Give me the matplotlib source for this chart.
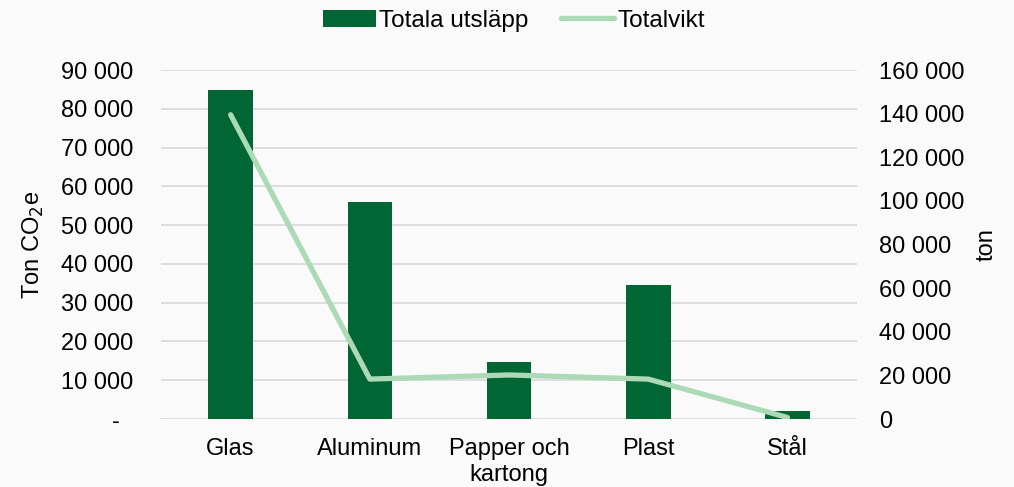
import numpy as np
import matplotlib.pyplot as plt
from matplotlib.ticker import FuncFormatter

plt.rcParams['font.family'] = ['Liberation Sans', 'DejaVu Sans']

categories = ['Glas', 'Aluminum', 'Papper och\nkartong', 'Plast', 'Stål']
utslapp = [84900, 56000, 14600, 34500, 2000]      # ton CO2e, left axis
totalvikt = [139500, 18300, 20200, 18300, 700]    # ton, right axis

bar_color = '#006633'
line_color = '#acd9b6'
bg = '#fafafa'
fs = 17


def sv_fmt(v, pos):
    if v == 0:
        return '-  '
    return '{:,.0f}'.format(v).replace(',', ' ')


def sv_fmt2(v, pos):
    return '{:,.0f}'.format(v).replace(',', ' ')


fig = plt.figure(figsize=(10.14, 4.87), dpi=100, facecolor=bg)
ax = fig.add_axes([0.1588, 0.1396, 0.6864, 0.7166], facecolor=bg)
ax2 = ax.twinx()

x = np.arange(len(categories))
b = ax.bar(x, utslapp, width=0.32, color=bar_color, label='Totala utsläpp', zorder=2)
l, = ax2.plot(x, totalvikt, color=line_color, lw=3.8, solid_capstyle='round',
              label='Totalvikt', zorder=3)

ax.set_xlim(-0.5, 4.5)
ax.set_ylim(0, 90000)
ax.set_yticks(np.arange(0, 90001, 10000))
ax2.set_ylim(0, 160000)
ax2.set_yticks(np.arange(0, 160001, 20000))
ax.yaxis.set_major_formatter(FuncFormatter(sv_fmt))
ax2.yaxis.set_major_formatter(FuncFormatter(sv_fmt2))

ax.set_xticks(x)
ax.set_xticklabels(categories, linespacing=1.2)
ax.grid(axis='y', color='#d9d9d9', lw=1.2, zorder=0)
ax.set_axisbelow(True)

for a in (ax, ax2):
    for s in a.spines.values():
        s.set_visible(False)
    a.tick_params(length=0, labelsize=fs, colors='black')
ax.tick_params(axis='y', pad=20)
ax2.tick_params(axis='y', pad=16)
ax.tick_params(axis='x', pad=14)

fig.text(0.0325, 0.497, 'Ton CO$_2$e', fontsize=fs, rotation=90, ha='center', va='center')
fig.text(0.973, 0.497, 'ton', fontsize=fs, rotation=90, ha='center', va='center')

fig.legend(handles=[b, l], loc='center', bbox_to_anchor=(0.507, 0.957), ncol=2,
           frameon=False, fontsize=17.5, handlelength=2.15, handletextpad=0.15,
           columnspacing=1.35)

fig.savefig('out.png', dpi=100, facecolor=bg)
